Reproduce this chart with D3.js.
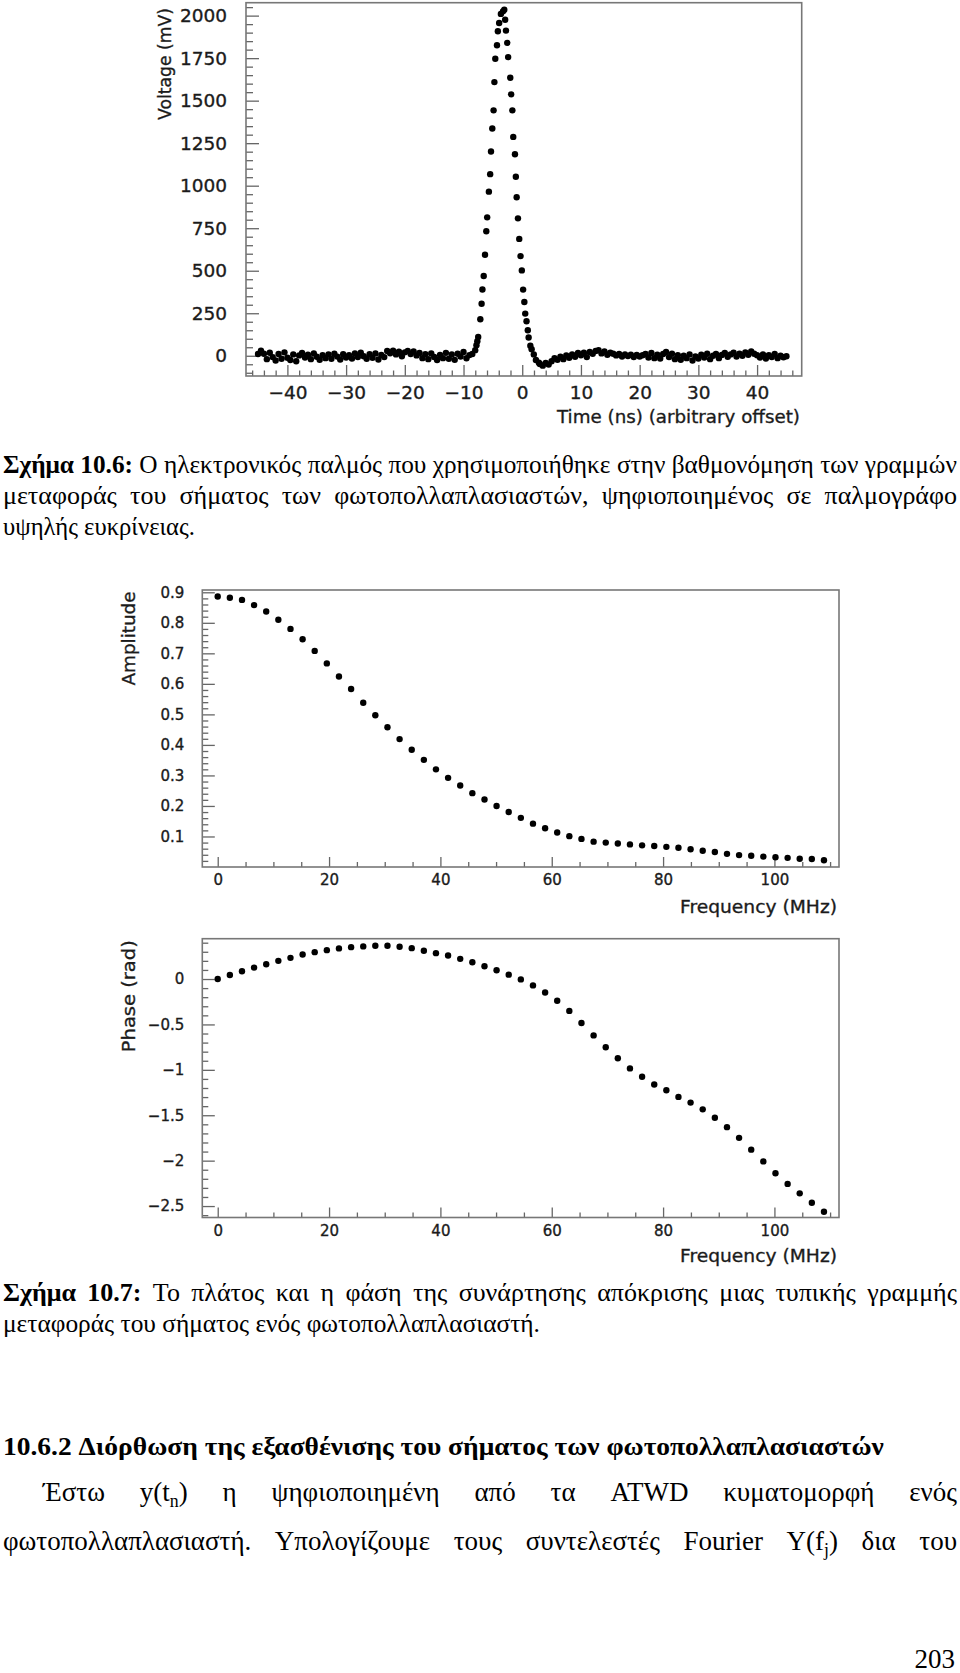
<!DOCTYPE html>
<html><head><meta charset="utf-8">
<script src="https://cdn.jsdelivr.net/npm/d3@7"></script>
<style>html,body{margin:0;padding:0;background:#fff}svg{display:block}</style>
</head><body>
<svg id="page" width="960" height="1673"></svg>
<script>
// ---------------- DATA ----------------
// Fig 10.6 : pulse (time in ns, voltage in mV)
const baseLeftStart = -45, baseStep = 0.5;
const baseLeftMv = [10,30,12,-20,18,-8,-28,10,-18,20,-12,-25,8,-32,2,16,-10,6,-20,14,-6,-24,4,-14,8,-18,12,-5,-22,9,-10,4,-16,13,-7,18,-3,-18,9,-12,14,-22,5,-8,28,15,30,8,24,-3,20,28,10,25,2,16,-14,9,-20,13,-7,-25,5,-14,17,-18,7,-24,12,-5,22,-15,4,10];
const pulseTime = [-8.01,-7.80,-7.65,-7.50,-7.14,-6.92,-6.78,-6.56,-6.34,-6.12,-5.97,-5.68,-5.46,-5.32,-5.10,-4.88,-4.74,-4.59,-4.30,-4.15,-3.93,-3.64,-3.28,-3.06,-2.91,-2.77,-2.55,-2.40,-2.04,-1.89,-1.68,-1.53,-1.24,-1.09,-0.95,-0.73,-0.51,-0.29,-0.07,0.15,0.36,0.51,0.73,0.95,1.09,1.38,1.60,1.97,2.33,2.84];
const pulseMv = [33,62,86,111,215,306,390,469,594,732,814,965,1068,1201,1336,1443,1609,1746,1826,1908,1957,2010,2025,2035,1976,1912,1840,1756,1635,1537,1443,1287,1185,1053,932,808,687,586,502,389,316,248,203,150,107,59,39,8,-25,-41];
const baseRightStart = 3.0;
const baseRightMv = [-48,-58,-42,-52,-32,-15,-24,-6,-20,2,-12,8,-6,16,3,18,-8,22,12,28,32,14,25,6,18,12,2,10,-5,8,-2,6,-8,5,-4,3,10,-10,16,-14,6,-16,10,22,-8,12,-20,3,-24,0,-14,8,-28,-4,-16,6,-10,12,-20,0,10,-14,5,16,-6,8,18,-4,12,0,20,6,25,12,3,-10,8,-16,3,-7,10,-14,0,-9,-3];
const pulseXTicks = [-40,-30,-20,-10,0,10,20,30,40];
const pulseYTicks = [0,250,500,750,1000,1250,1500,1750,2000];

// Fig 10.7 : transfer function
const freqMHz = [0,2.18,4.36,6.53,8.71,10.89,13.07,15.25,17.42,19.60,21.78,23.96,26.14,28.31,30.49,32.67,34.85,37.03,39.20,41.38,43.56,45.74,47.92,50.09,52.27,54.45,56.63,58.81,60.98,63.16,65.34,67.52,69.70,71.87,74.05,76.23,78.41,80.59,82.76,84.94,87.12,89.30,91.48,93.65,95.83,98.01,100.19,102.37,104.54,106.72,108.90];
const amplitude = [0.886,0.882,0.875,0.858,0.837,0.810,0.780,0.746,0.708,0.667,0.624,0.583,0.538,0.497,0.458,0.419,0.384,0.351,0.320,0.292,0.267,0.242,0.221,0.200,0.180,0.161,0.142,0.127,0.113,0.101,0.092,0.083,0.080,0.077,0.074,0.071,0.069,0.066,0.063,0.058,0.053,0.049,0.043,0.039,0.037,0.034,0.032,0.030,0.027,0.026,0.022];
const phaseRad = [0,0.044,0.085,0.126,0.163,0.2,0.233,0.27,0.296,0.318,0.337,0.351,0.359,0.366,0.366,0.355,0.34,0.311,0.285,0.259,0.222,0.185,0.14,0.096,0.048,-0.004,-0.07,-0.148,-0.24,-0.351,-0.484,-0.621,-0.751,-0.873,-0.984,-1.076,-1.161,-1.224,-1.298,-1.361,-1.435,-1.527,-1.631,-1.749,-1.879,-2.008,-2.138,-2.256,-2.36,-2.463,-2.563];
const freqTicks = [0,20,40,60,80,100];
const ampTicks = [0.1,0.2,0.3,0.4,0.5,0.6,0.7,0.8,0.9];
const phaseTicks = [-2.5,-2,-1.5,-1,-0.5,0];

// ---------------- DRAWING ----------------
const svg = d3.select('#page');
const CF = 'DejaVu Sans, Verdana, sans-serif';
const FRAME = '#777', TICK = '#666', INK = '#1b1b1b';

function styleAxis(sel, fs) {
  sel.select('.domain').remove();
  sel.selectAll('line').attr('stroke', TICK).attr('stroke-width', 1.3);
  sel.selectAll('text').attr('fill', INK).attr('font-family', CF).attr('font-size', fs)
    .attr('stroke', INK).attr('stroke-width', 0.35);
}
function frame(g, x0, y0, x1, y1) {
  g.append('rect').attr('x', x0).attr('y', y0).attr('width', x1 - x0).attr('height', y1 - y0)
    .attr('fill', 'none').attr('stroke', FRAME).attr('stroke-width', 1.6);
}
function axisTitle(g, text, x, y, rot, len, fs) {
  const t = g.append('text').text(text).attr('font-family', CF).attr('font-size', fs)
    .attr('fill', INK).attr('stroke', INK).attr('stroke-width', 0.35).attr('text-anchor', 'end')
    .attr('textLength', len).attr('lengthAdjust', 'spacingAndGlyphs');
  t.attr('transform', rot ? `translate(${x},${y}) rotate(-90)` : `translate(${x},${y})`);
}
function dots(g, xs, ys, x, y, r) {
  g.selectAll(null).data(xs.map((d, i) => [d, ys[i]])).join('circle')
    .attr('cx', d => x(d[0])).attr('cy', d => y(d[1])).attr('r', r).attr('fill', '#000');
}

// ---- pulse chart ----
(function () {
  const L = 246, R = 801.7, T = 2.7, B = 376;
  const x = d3.scaleLinear().domain([-47.05, 47.6]).range([L, R]);
  const y = d3.scaleLinear().domain([-119, 2076]).range([B, T]);
  const g = svg.append('g');
  const minorX = d3.range(-46, 47, 2).filter(v => !pulseXTicks.includes(v));
  const minorY = d3.range(-100, 2076, 50).filter(v => !pulseYTicks.includes(v));
  g.append('g').attr('transform', `translate(0,${B})`)
    .call(d3.axisBottom(x).tickValues(minorX).tickSize(-5.5).tickFormat('')).call(s => styleAxis(s, 18));
  g.append('g').attr('transform', `translate(0,${B})`)
    .call(d3.axisBottom(x).tickValues(pulseXTicks).tickSize(-11).tickPadding(10)).call(s => styleAxis(s, 18.5));
  g.append('g').attr('transform', `translate(${L},0)`)
    .call(d3.axisLeft(y).tickValues(minorY).tickSize(-7).tickFormat('')).call(s => styleAxis(s, 18));
  g.append('g').attr('transform', `translate(${L},0)`)
    .call(d3.axisLeft(y).tickValues(pulseYTicks).tickSize(-13).tickPadding(19).tickFormat(d3.format('d'))).call(s => styleAxis(s, 18.5));
  frame(g, L, T, R, B);
  const tl = baseLeftMv.map((_, i) => baseLeftStart + i * baseStep);
  const tr = baseRightMv.map((_, i) => baseRightStart + i * baseStep);
  dots(g, tl, baseLeftMv, x, y, 3.2);
  dots(g, pulseTime, pulseMv, x, y, 3.2);
  dots(g, tr, baseRightMv, x, y, 3.2);
  axisTitle(g, 'Voltage (mV)', 171, 8, true, 112, 18.5);
  axisTitle(g, 'Time (ns) (arbitrary offset)', 800, 423, false, 243, 18.5);
})();

// ---- frequency charts ----
function freqChart(T, B, yDomain, vals, yTicks, minorY, yFmt, yTitle, yTitleLen, xTitleY) {
  const L = 202.3, R = 839;
  const x = d3.scaleLinear().domain([-2.77, 111.6]).range([L, R]);
  const y = d3.scaleLinear().domain(yDomain).range([B, T]);
  const g = svg.append('g');
  const minorX = d3.range(0, 111, 5).filter(v => !freqTicks.includes(v));
  g.append('g').attr('transform', `translate(0,${B})`)
    .call(d3.axisBottom(x).tickValues(minorX).tickSize(-5).tickFormat('')).call(s => styleAxis(s, 15));
  g.append('g').attr('transform', `translate(0,${B})`)
    .call(d3.axisBottom(x).tickValues(freqTicks).tickSize(-10).tickPadding(7.5)).call(s => styleAxis(s, 15));
  g.append('g').attr('transform', `translate(${L},0)`)
    .call(d3.axisLeft(y).tickValues(minorY).tickSize(-6).tickFormat('')).call(s => styleAxis(s, 15));
  g.append('g').attr('transform', `translate(${L},0)`)
    .call(d3.axisLeft(y).tickValues(yTicks).tickSize(-12.5).tickPadding(18).tickFormat(yFmt)).call(s => styleAxis(s, 15));
  frame(g, L, T, R, B);
  dots(g, freqMHz, vals, x, y, 3.2);
  axisTitle(g, yTitle, 134.5, T + 1.5, true, yTitleLen, 18.5);
  axisTitle(g, 'Frequency (MHz)', 837, xTitleY, false, 157, 18.5);
}
const ampMinor = d3.range(1, 46).map(i => +(i * 0.02).toFixed(2)).filter(v => !ampTicks.some(t => Math.abs(t - v) < 1e-6));
freqChart(590, 867, [0, 0.9075], amplitude, ampTicks, ampMinor, d3.format('.1f'), 'Amplitude', 94, 913);
const phMinor = d3.range(-26, 5).map(i => +(i * 0.1).toFixed(1)).filter(v => !phaseTicks.some(t => Math.abs(t - v) < 1e-6));
freqChart(938.7, 1217.5, [-2.626, 0.444], phaseRad, phaseTicks, phMinor, d => d3.format('')(d), 'Phase (rad)', 112, 1262);

// ---------------- TEXT ----------------
const TF = 'Liberation Serif, Times New Roman, serif';
function textLine(words, opt) {
  const size = opt.size, g = svg.append('g');
  const nodes = words.map(w => {
    const segs = typeof w === 'string' ? [{ t: w }] : w;
    const t = g.append('text').attr('y', opt.y).attr('font-family', TF).attr('font-size', size)
      .attr('fill', '#000').attr('font-weight', opt.bold ? 'bold' : 'normal');
    let shift = 0;
    segs.forEach(s => {
      const ts = t.append('tspan').text(s.t);
      if (s.b) ts.attr('font-weight', 'bold');
      if (s.sub) { ts.attr('font-size', size * 0.66).attr('dy', size * 0.22 - shift); shift = size * 0.22; }
      else if (shift) { ts.attr('dy', -shift); shift = 0; }
    });
    return t;
  });
  const widths = nodes.map(n => n.node().getComputedTextLength());
  const sum = d3.sum(widths), n = nodes.length, sp = size * 0.25;
  const W = opt.x1 - opt.x0;
  let gap = sp, s = 1;
  if (opt.justify) {
    gap = (W - sum) / (n - 1);
    if (gap < sp) { gap = sp; s = W / (sum + gap * (n - 1)); }
  } else if (opt.fit) {
    s = W / (sum + gap * (n - 1));
  }
  let cur = opt.x0;
  nodes.forEach((nd, i) => { nd.attr('x', cur); cur += widths[i] + gap; });
  if (s !== 1) g.attr('transform', `translate(${opt.x0},0) scale(${s},1) translate(${-opt.x0},0)`);
}
const B = str => [{ t: str, b: true }];
function words(str) { return str.split(' '); }

textLine([B('Σχήμα'), B('10.6:')].concat(words('Ο ηλεκτρονικός παλμός που χρησιμοποιήθηκε στην βαθμονόμηση των γραμμών')),
  { x0: 3, x1: 957, y: 473, size: 26, justify: true });
textLine(words('μεταφοράς του σήματος των φωτοπολλαπλασιαστών, ψηφιοποιημένος σε παλμογράφο'),
  { x0: 3, x1: 957, y: 504, size: 26, justify: true });
textLine(words('υψηλής ευκρίνειας.'), { x0: 3, x1: 195, y: 535, size: 26, fit: true });

textLine([B('Σχήμα'), B('10.7:')].concat(words('Το πλάτος και η φάση της συνάρτησης απόκρισης μιας τυπικής γραμμής')),
  { x0: 3, x1: 957, y: 1301, size: 26, justify: true });
textLine(words('μεταφοράς του σήματος ενός φωτοπολλαπλασιαστή.'), { x0: 3, x1: 540, y: 1332, size: 26, fit: true });

textLine(words('10.6.2 Διόρθωση της εξασθένισης του σήματος των φωτοπολλαπλασιαστών'),
  { x0: 3, x1: 884, y: 1455, size: 25, bold: true, fit: true });

textLine(['Έστω', [{ t: 'y(t' }, { t: 'n', sub: true }, { t: ')' }], 'η', 'ψηφιοποιημένη', 'από', 'τα', 'ATWD', 'κυματομορφή', 'ενός'],
  { x0: 43, x1: 957, y: 1501, size: 27, justify: true });
textLine(['φωτοπολλαπλασιαστή.', 'Υπολογίζουμε', 'τους', 'συντελεστές', 'Fourier', [{ t: 'Y(f' }, { t: 'j', sub: true }, { t: ')' }], 'δια', 'του'],
  { x0: 3, x1: 957, y: 1550, size: 27, justify: true });

svg.append('text').text('203').attr('x', 955).attr('y', 1668).attr('text-anchor', 'end')
  .attr('font-family', TF).attr('font-size', 27).attr('fill', '#000');
</script>
</body></html>
